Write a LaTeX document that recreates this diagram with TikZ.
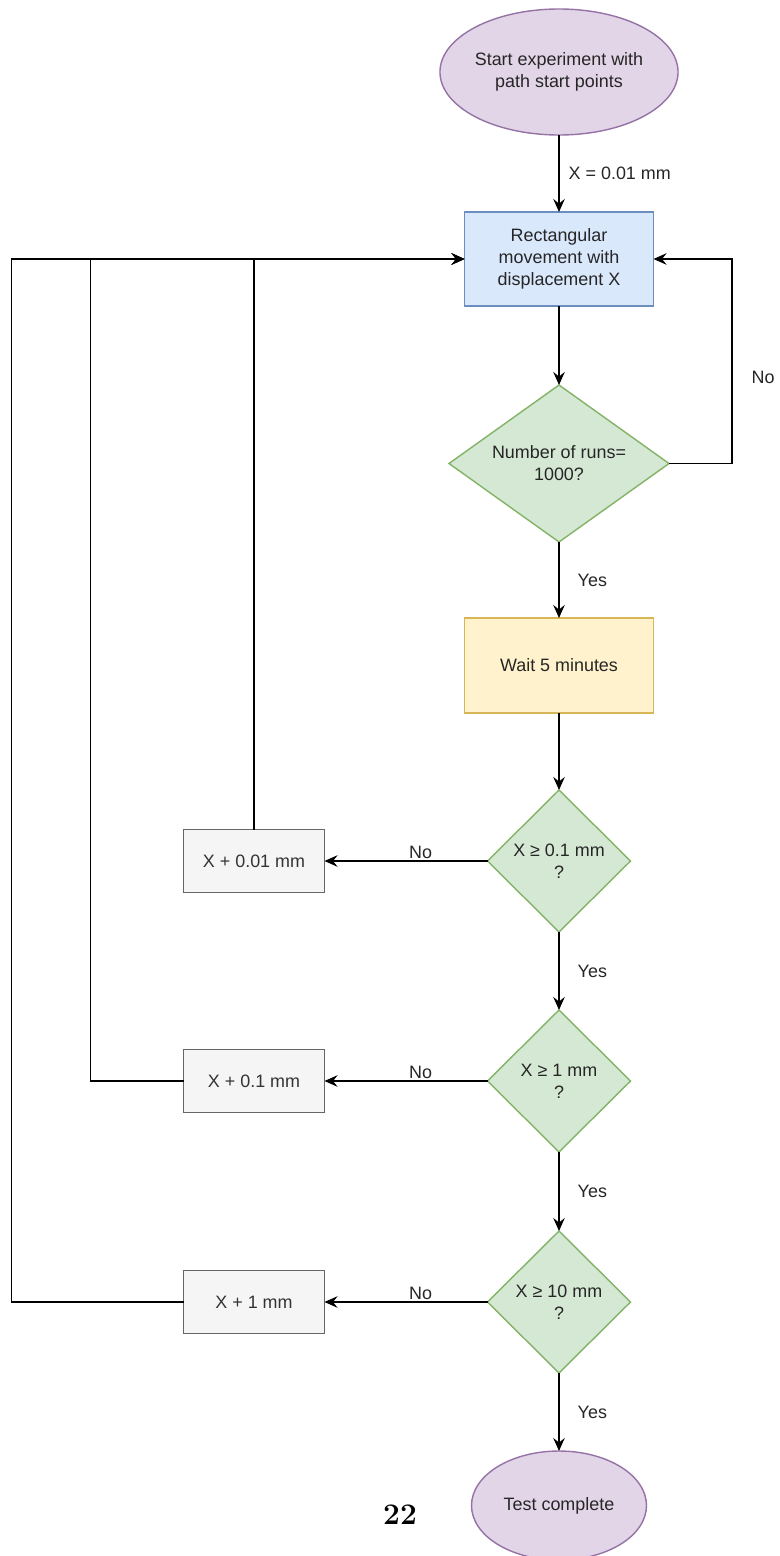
\documentclass[tikz,border=0pt]{standalone}
\usepackage{fontspec}
\newfontfamily\drawfont{Liberation Sans}
\usetikzlibrary{arrows.meta,positioning,shapes.geometric}
\definecolor{termfill}{HTML}{E1D5E7}
\definecolor{termline}{HTML}{9673A6}
\definecolor{movefill}{HTML}{DAE8FC}
\definecolor{moveline}{HTML}{6C8EBF}
\definecolor{askfill}{HTML}{D5E8D4}
\definecolor{askline}{HTML}{82B366}
\definecolor{waitfill}{HTML}{FFF2CC}
\definecolor{waitline}{HTML}{D6B656}
\definecolor{incfill}{HTML}{F5F5F5}
\definecolor{incline}{HTML}{666666}
\definecolor{inctext}{HTML}{333333}

\begin{document}
\begin{tikzpicture}[
    node distance=1.5cm,
    >={Stealth[length=2.6mm,width=2.3mm,inset=0.9mm]},
    line width=0.8pt,
    font=\drawfont\fontsize{10.2pt}{12.5pt}\selectfont,
    terminal/.style={
		ellipse,
		draw=termline,
		fill=termfill,
		text=black!85,
		align=center,
		inner sep=0pt,
		outer sep=0pt
	},
    process/.style={
		rectangle,
		draw=moveline,
		fill=movefill,
		text=black!85,
		align=center,
		outer sep=0pt,
		minimum width=3.78cm,
		minimum height=1.88cm
	},
    decision/.style={
		diamond,
		draw=askline,
		fill=askfill,
		text=black!85,
		align=center,
		inner sep=0pt,
		outer sep=0pt
	},
    increment/.style={
		rectangle,
		draw=incline,
		fill=incfill,
		text=inctext,
		outer sep=0pt,
		minimum width=2.82cm,
		minimum height=1.26cm
	},
    note/.style={
		text=black!85,
		inner sep=0pt
	}
  ]
  \useasboundingbox (0,0) rectangle (15.58,-31.12);

    % We start by placing the blocks
  \node [terminal, minimum width=3.8cm, minimum height=2.52cm] (start) at (11.18,-1.44)
 {Start experiment with\\path start points};

  \node [process, below=1.54cm of start] (move)
 {Rectangular\\movement with\\displacement X};

  \node [decision, below=1.58cm of move, minimum width=4.4cm, minimum height=3.14cm, aspect=1.4] (runs)
 {Number of runs=\\1000?};

  \node [process, below=1.52cm of runs, draw=waitline, fill=waitfill, minimum height=1.9cm] (wait)
 {Wait 5 minutes};

  \node [decision, below=1.54cm of wait, minimum width=2.86cm, minimum height=2.84cm] (check1)
 {X ≥ 0.1 mm\\?};

  \node [decision, below=1.56cm of check1, minimum width=2.86cm, minimum height=2.84cm] (check2)
 {X ≥ 1 mm\\?};

  \node [decision, below=1.58cm of check2, minimum width=2.86cm, minimum height=2.84cm] (check3)
 {X ≥ 10 mm\\?};

  \node [terminal, below=1.56cm of check3, minimum width=3.5cm, minimum height=2.18cm] (done)
 {Test complete};

  \node [increment, left=3.26cm of check1] (inc1) {X + 0.01 mm};
  \node [increment, left=3.26cm of check2] (inc2) {X + 0.1 mm};
  \node [increment, left=3.26cm of check3] (inc3) {X + 1 mm};

  \node [font=\fontsize{17pt}{20pt}\selectfont\bfseries] (pagenum) at (8.0,-30.3) {22};

 \draw [->] (start) -- node [note, right, xshift=0.18cm] {X = 0.01 mm} (move);
 \draw [->] (move) -- (runs);
 \draw [->] (runs.east) -- ++(1.26,0) |- node [note, right, pos=0.21, xshift=0.38cm] {No} (move.east);
 \draw [->] (runs) -- node [note, right, xshift=0.36cm] {Yes} (wait);
 \draw [->] (wait) -- (check1);
 \draw [->] (check1) -- node [note, right, xshift=0.36cm] {Yes} (check2);
 \draw [->] (check2) -- node [note, right, xshift=0.36cm] {Yes} (check3);
 \draw [->] (check3) -- node [note, right, xshift=0.36cm] {Yes} (done);

 \draw [->] (check1.west) -- node [note, above, pos=0.41, yshift=1pt] {No} (inc1.east);
 \draw [->] (check2.west) -- node [note, above, pos=0.41, yshift=1pt] {No} (inc2.east);
 \draw [->] (check3.west) -- node [note, above, pos=0.41, yshift=1pt] {No} (inc3.east);

 \draw [->] (inc1.north) |- (move.west);
 \draw [->] (inc2.west) -- ++(-1.86,0) |- (move.west);
 \draw [->] (inc3.west) -- ++(-3.44,0) |- (move.west);

\end{tikzpicture}
\end{document}
